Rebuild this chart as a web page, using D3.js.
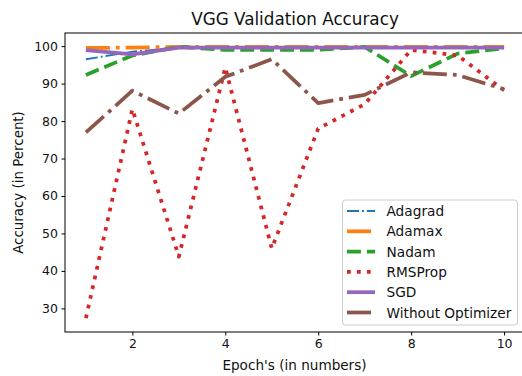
<!DOCTYPE html>
<html>
<head>
<meta charset="utf-8">
<script src="https://cdn.jsdelivr.net/npm/d3@7"></script>
<style>
  body { margin: 0; background: #fff; }
  svg { display: block; font-family: "DejaVu Sans", sans-serif; }
</style>
</head>
<body>
<div id="chart"></div>
<script>
// VGG validation accuracy per epoch
var epochs = [1, 2, 3, 4, 5, 6, 7, 8, 9, 10];
var series = ["Adagrad", "Adamax", "Nadam", "RMSProp", "SGD", "Without Optimizer"];

var data_adagrad = [96.5, 98.5, 99.6, 99.6, 99.6, 99.6, 99.6, 99.6, 99.6, 99.6];
var data_adamax = [99.5, 99.6, 99.8, 99.8, 99.8, 99.8, 99.8, 99.8, 99.8, 99.8];
var data_nadam = [92.3, 97.5, 99.8, 99.0, 99.0, 99.0, 99.8, 92.0, 98.0, 99.4];
var data_rmsprop = [27.4, 83.2, 43.8, 94.3, 46.0, 78.0, 84.5, 99.0, 97.5, 88.2];
var data_sgd = [98.9, 97.8, 99.6, 99.6, 99.6, 99.6, 99.6, 99.6, 99.6, 99.6];
var data_without = [77.0, 88.1, 82.0, 91.8, 96.5, 84.8, 87.0, 93.0, 92.3, 88.5];

var xTicks = [2, 4, 6, 8, 10];
var yTicks = [30, 40, 50, 60, 70, 80, 90, 100];

var allData = [data_adagrad, data_adamax, data_nadam, data_rmsprop, data_sgd, data_without];
var color = ["#1f77b4", "#ff7f0e", "#2ca02c", "#d62728", "#9467bd", "#8c564b"];
var widths = [1.9, 3.75, 3.75, 3.75, 3.75, 3.75];
var dashes = ["12,3,1.9,3", "24,6,3.75,6", "13.9,6", "3.75,6.2", null, "24,6,3.75,6"];

var W = 522, H = 376;
var axL = 65, axR = 525, axT = 33, axB = 332;

var svg = d3.select("#chart").append("svg")
    .attr("width", W)
    .attr("height", H);

var x = d3.scaleLinear().domain([0.55, 10.45]).range([axL, axR]);
var y = d3.scaleLinear().domain([23.7, 103.5]).range([axB, axT]);

// clip to the axes area
svg.append("clipPath").attr("id", "clip")
    .append("rect")
    .attr("x", axL).attr("y", axT)
    .attr("width", axR - axL).attr("height", axB - axT);

var line = d3.line()
    .x(function(d, i) { return x(epochs[i]); })
    .y(function(d) { return y(d); });

var g = svg.append("g").attr("clip-path", "url(#clip)");
for (var i = 0; i < allData.length; i++) {
    g.append("path")
        .attr("d", line(allData[i]))
        .attr("fill", "none")
        .attr("stroke", color[i])
        .attr("stroke-width", widths[i])
        .attr("stroke-dasharray", dashes[i])
        .attr("stroke-linejoin", "round");
}

// frame
svg.append("rect")
    .attr("x", axL).attr("y", axT)
    .attr("width", axR - axL).attr("height", axB - axT)
    .attr("fill", "none")
    .attr("stroke", "#000")
    .attr("stroke-width", 1);

var xAxis = svg.append("g")
    .attr("transform", "translate(0," + axB + ")")
    .call(d3.axisBottom(x).tickValues(xTicks).tickSize(3.5).tickPadding(3.5));
var yAxis = svg.append("g")
    .attr("transform", "translate(" + axL + ",0)")
    .call(d3.axisLeft(y).tickValues(yTicks).tickSize(3.5).tickPadding(3.5));

[xAxis, yAxis].forEach(function(a) {
    a.select(".domain").remove();
    a.selectAll("text")
        .style("font-size", "12.5px")
        .style("font-family", "DejaVu Sans")
        .attr("fill", "#111");
    a.selectAll("line").attr("stroke", "#000");
});

svg.append("text")
    .attr("x", (axL + axR) / 2)
    .attr("y", 25)
    .attr("text-anchor", "middle")
    .style("font-size", "16.8px")
    .attr("fill", "#111")
    .text("VGG Validation Accuracy");

svg.append("text")
    .attr("x", (axL + axR) / 2 - 0.5)
    .attr("y", 370)
    .attr("text-anchor", "middle")
    .style("font-size", "13.6px")
    .attr("fill", "#111")
    .text("Epoch's (in numbers)");

svg.append("text")
    .attr("transform", "translate(22.5," + ((axT + axB) / 2) + ") rotate(-90)")
    .attr("text-anchor", "middle")
    .style("font-size", "13.4px")
    .attr("fill", "#111")
    .text("Accuracy (in Percent)");

// legend
var lg = svg.append("g");
lg.append("rect")
    .attr("x", 342.5).attr("y", 200)
    .attr("width", 175).attr("height", 125)
    .attr("rx", 3)
    .attr("fill", "#fff").attr("fill-opacity", 0.8)
    .attr("stroke", "#ccc");
for (var i = 0; i < series.length; i++) {
    var ly = 211 + i * 20.3;
    lg.append("line")
        .attr("x1", 347).attr("x2", 375)
        .attr("y1", ly).attr("y2", ly)
        .attr("stroke", color[i])
        .attr("stroke-width", widths[i])
        .attr("stroke-dasharray", dashes[i]);
    lg.append("text")
        .attr("x", 386.5).attr("y", ly + 5)
        .style("font-size", "13.7px")
        .attr("fill", "#111")
        .text(series[i]);
}
</script>
</body>
</html>
